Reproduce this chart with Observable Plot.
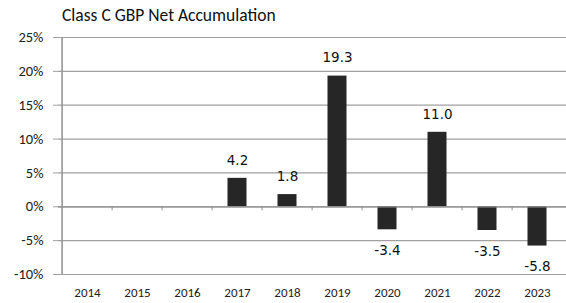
<!DOCTYPE html>
<html><head><meta charset="utf-8">
<script src="https://cdn.jsdelivr.net/npm/d3@7"></script>
<script src="https://cdn.jsdelivr.net/npm/@observablehq/plot@0.6"></script>
<style>
body{margin:0;background:#fff;}
#wrap{position:relative;width:566px;height:303px;}
#title{position:absolute;left:62px;top:4px;font:17.5px Carlito,Lato,sans-serif;color:#111;}
</style></head>
<body><div id="wrap"><div id="title">Class C GBP Net Accumulation</div><div id="chart"></div></div>
<script>
const years = ["2014","2015","2016","2017","2018","2019","2020","2021","2022","2023"];
const values = [null,null,null,4.2,1.8,19.3,-3.4,11.0,-3.5,-5.8];
const yTicks = [-10,-5,0,5,10,15,20,25];

const data = years.map((y,i)=>({year:y, value:values[i]}));
const bars = data.filter(d=>d.value!=null);
const bw = (566-58)/years.length;

const plot = Plot.plot({
  width:566, height:303,
  marginLeft:58, marginRight:0, marginTop:37, marginBottom:29,
  style:{fontFamily:"Carlito, Lato, sans-serif", fontSize:"13px", color:"#222", background:"#fff"},
  x:{domain:years, padding:0, label:null},
  y:{domain:[-10,25], label:null},
  marks:[
    Plot.ruleY(yTicks,{stroke:"#a0a0a0", strokeWidth:1.2}),
    Plot.axisY({ticks:yTicks, tickFormat:d=>d+"%", tickSize:5, tickPadding:10, stroke:"#a0a0a0", fontSize:14.5, label:null}),
    Plot.axisX({tickSize:0, tickPadding:13, fontSize:13, label:null}),
    Plot.ruleX(years.slice(0,1),{dx:-bw/2, y1:-10, y2:25, stroke:"#909090", strokeWidth:1.5}),
    Plot.ruleX(years.slice(1),{dx:-bw/2, y1:0, y2:-0.6, stroke:"#909090"}),
    Plot.barY(bars,{x:"year", y:"value", fill:"#262626", insetLeft:15.5, insetRight:15.5}),
    Plot.ruleY([0],{stroke:"#909090", strokeWidth:1.3}),
    Plot.text(bars.filter(d=>d.value>=0),{x:"year", y:"value", text:d=>d.value.toFixed(1), dy:-18, fontFamily:"DejaVu Sans, sans-serif", fontSize:13.5, fill:"#111"}),
    Plot.text(bars.filter(d=>d.value<0),{x:"year", y:"value", text:d=>d.value.toFixed(1), dy:21, fontFamily:"DejaVu Sans, sans-serif", fontSize:13.5, fill:"#111"})
  ]
});
document.getElementById("chart").appendChild(plot);
</script></body></html>
